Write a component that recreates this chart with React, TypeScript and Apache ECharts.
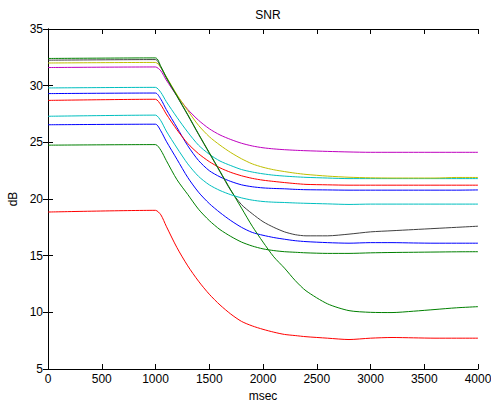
import React, { useEffect, useRef } from "react";
import * as echarts from "echarts";

const timeMs = [0, 1000, 1050, 1100, 1200, 1300, 1400, 1500, 1600, 1700, 1800, 1900, 2000, 2100, 2200, 2300, 2400, 2600, 2800, 3000, 3200, 3400, 3600, 3800, 4000];

const blueUpper = [29.3, 29.35, 28.8, 27.9, 26.3, 24.7, 23.4, 22.5, 21.95, 21.55, 21.25, 21.08, 20.98, 20.93, 20.9, 20.85, 20.82, 20.8, 20.78, 20.78, 20.78, 20.78, 20.78, 20.78, 20.8];
const greenLower = [24.75, 24.8, 24.3, 23.4, 21.7, 20.4, 19.1, 18.1, 17.3, 16.7, 16.2, 15.85, 15.6, 15.45, 15.35, 15.3, 15.25, 15.2, 15.2, 15.25, 15.28, 15.3, 15.32, 15.34, 15.35];
const redUpper = [28.7, 28.8, 28.3, 27.5, 26.1, 24.9, 24.0, 23.3, 22.75, 22.35, 22.05, 21.82, 21.66, 21.55, 21.45, 21.36, 21.29, 21.25, 21.22, 21.22, 21.22, 21.22, 21.22, 21.22, 21.22];
const cyanUpper = [29.8, 29.85, 29.4, 28.6, 27.2, 25.9, 24.75, 23.95, 23.35, 22.95, 22.6, 22.38, 22.22, 22.1, 22.02, 21.96, 21.91, 21.85, 21.8, 21.8, 21.8, 21.8, 21.8, 21.8, 21.8];
const magenta = [31.6, 31.65, 31.3, 30.5, 29.1, 27.9, 26.95, 26.2, 25.65, 25.25, 24.92, 24.68, 24.52, 24.42, 24.35, 24.3, 24.26, 24.2, 24.15, 24.12, 24.12, 24.12, 24.12, 24.12, 24.12];
const yellow = [32.0, 32.05, 31.6, 30.8, 29.2, 27.8, 26.5, 25.5, 24.75, 24.1, 23.55, 23.1, 22.8, 22.58, 22.42, 22.28, 22.17, 22.02, 21.92, 21.87, 21.85, 21.85, 21.85, 21.9, 21.9];
const darkGray = [32.25, 32.3, 31.6, 30.7, 29.05, 27.4, 25.7, 24.05, 22.4, 20.75, 19.5, 18.7, 18.0, 17.5, 17.1, 16.85, 16.75, 16.75, 16.9, 17.1, 17.2, 17.3, 17.4, 17.5, 17.6];
const blueLower = [26.55, 26.6, 26.0, 25.1, 23.5, 21.9, 20.6, 19.6, 18.8, 18.1, 17.5, 17.05, 16.8, 16.6, 16.45, 16.32, 16.24, 16.15, 16.1, 16.15, 16.15, 16.12, 16.1, 16.1, 16.1];
const greenSteep = [32.4, 32.45, 31.7, 30.75, 29.1, 27.45, 25.75, 24.1, 22.45, 20.8, 19.2, 17.6, 16.2, 14.9, 13.9, 12.8, 11.9, 10.75, 10.15, 10.0, 9.98, 10.1, 10.25, 10.4, 10.5];
const redLower = [18.85, 19.0, 18.6, 17.6, 15.7, 14.1, 12.75, 11.6, 10.65, 9.85, 9.2, 8.8, 8.5, 8.25, 8.05, 7.95, 7.85, 7.72, 7.6, 7.72, 7.78, 7.75, 7.72, 7.72, 7.72];
const cyanLower = [27.3, 27.4, 26.9, 26.0, 24.5, 23.1, 22.0, 21.25, 20.75, 20.38, 20.1, 19.9, 19.78, 19.72, 19.69, 19.65, 19.62, 19.57, 19.52, 19.55, 19.55, 19.55, 19.55, 19.55, 19.55];

const seriesList = [
  { name: "s1", values: blueUpper, color: "#0000ff" },
  { name: "s2", values: greenLower, color: "#008000" },
  { name: "s3", values: redUpper, color: "#ff0000" },
  { name: "s4", values: cyanUpper, color: "#00bfbf" },
  { name: "s5", values: magenta, color: "#bf00bf" },
  { name: "s6", values: yellow, color: "#bfbf00" },
  { name: "s7", values: darkGray, color: "#404040" },
  { name: "s8", values: blueLower, color: "#0000ff" },
  { name: "s9", values: greenSteep, color: "#008000" },
  { name: "s10", values: redLower, color: "#ff0000" },
  { name: "s11", values: cyanLower, color: "#00bfbf" },
];

const FONT = "Liberation Sans, Arial, sans-serif";

export default function App() {
  const ref = useRef<HTMLDivElement>(null);
  useEffect(() => {
    if (!ref.current) return;
    const chart = echarts.init(ref.current, null, { renderer: "svg" });
    const axisLine = { show: true, lineStyle: { color: "#000", width: 1 } };
    const tick = { show: true, inside: true, length: 5, lineStyle: { color: "#000" } };
    chart.setOption({
      animation: false,
      backgroundColor: "#fff",
      title: {
        text: "SNR",
        left: 263,
        textAlign: "center",
        top: 4,
        textStyle: { fontFamily: FONT, fontSize: 12, fontWeight: "normal", color: "#000" },
      },
      grid: { left: 48, top: 29, width: 430, height: 340, containLabel: false, outerBoundsMode: "none" },
      xAxis: [
        {
          type: "value",
          min: 0,
          max: 4000,
          interval: 500,
          position: "bottom",
          name: "msec",
          nameLocation: "middle",
          nameGap: 20,
          nameTextStyle: { fontFamily: FONT, fontSize: 12, color: "#000" },
          axisLine,
          axisTick: tick,
          axisLabel: {
            fontFamily: FONT,
            fontSize: 12,
            color: "#000",
            margin: 4,
            formatter: (v: number) => String(v),
          },
          splitLine: { show: false },
        },
        {
          type: "value",
          min: 0,
          max: 4000,
          interval: 500,
          position: "top",
          axisLine,
          axisTick: tick,
          axisLabel: { show: false },
          splitLine: { show: false },
        },
      ],
      yAxis: [
        {
          type: "value",
          min: 5,
          max: 35,
          interval: 5,
          position: "left",
          name: "dB",
          nameLocation: "middle",
          nameGap: 28,
          nameTextStyle: { fontFamily: FONT, fontSize: 12, color: "#000" },
          axisLine,
          axisTick: tick,
          axisLabel: { fontFamily: FONT, fontSize: 12, color: "#000", margin: 5 },
          splitLine: { show: false },
        },
        {
          type: "value",
          min: 5,
          max: 35,
          interval: 5,
          position: "right",
          axisLine,
          axisTick: tick,
          axisLabel: { show: false },
          splitLine: { show: false },
        },
      ],
      series: seriesList.map((s) => ({
        name: s.name,
        type: "line",
        xAxisIndex: 0,
        yAxisIndex: 0,
        showSymbol: false,
        symbol: "none",
        smooth: 0.25,
        lineStyle: { color: s.color, width: 1 },
        itemStyle: { color: s.color },
        data: timeMs.map((t, i) => [t, s.values[i]]),
      })),
    });
    return () => chart.dispose();
  }, []);
  return (
    <div
      ref={ref}
      style={{ position: "fixed", left: 0, top: 0, width: 491, height: 408, background: "#fff" }}
    />
  );
}
